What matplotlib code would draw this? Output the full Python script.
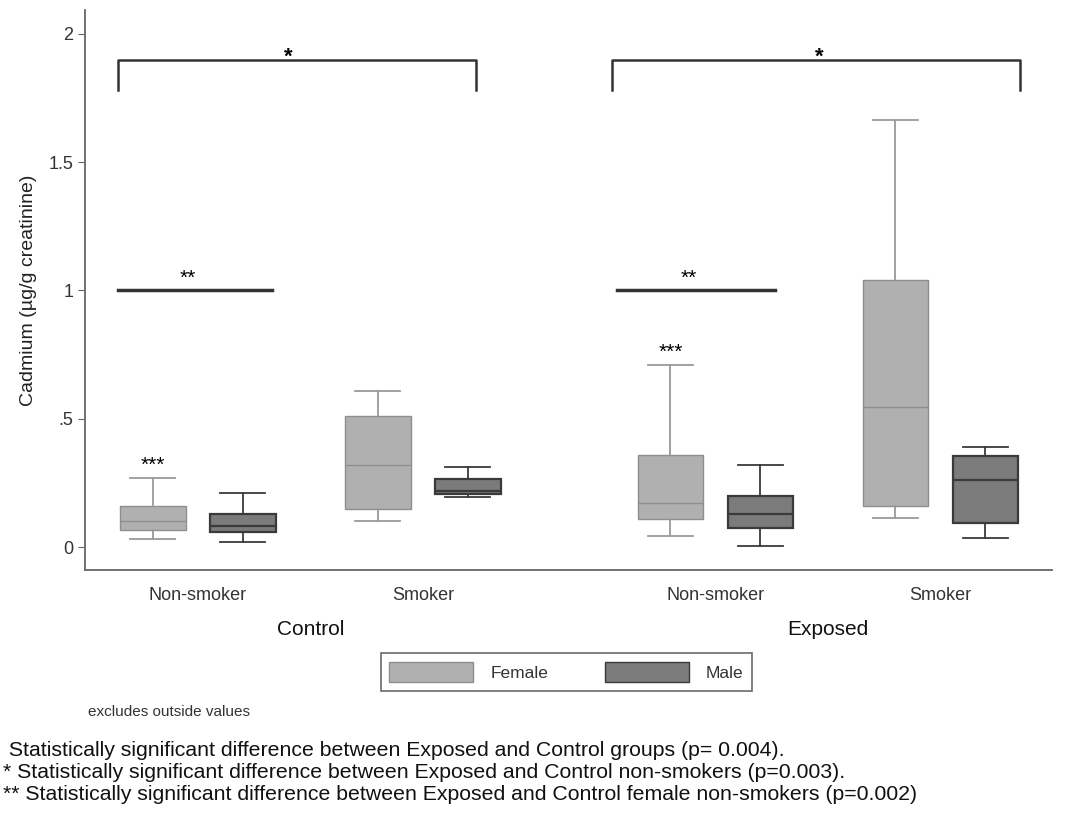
import numpy as np
import matplotlib
matplotlib.use("Agg")
import matplotlib.pyplot as plt
import matplotlib.transforms as mtrans
from matplotlib.patches import Patch

plt.rcParams["font.family"] = ["Liberation Sans", "DejaVu Sans"]

# box stats: whislo, q1, median, q3, whishi
groups = ["Control", "Exposed"]
smoking = ["Non-smoker", "Smoker", "Non-smoker", "Smoker"]
female_stats = [[0.031, 0.066, 0.10, 0.16, 0.27],
                [0.10, 0.15, 0.32, 0.51, 0.61],
                [0.043, 0.11, 0.17, 0.36, 0.71],
                [0.115, 0.16, 0.545, 1.04, 1.665]]
male_stats = [[0.02, 0.06, 0.08, 0.13, 0.21],
              [0.195, 0.205, 0.22, 0.265, 0.31],
              [0.005, 0.074, 0.13, 0.20, 0.32],
              [0.036, 0.095, 0.26, 0.355, 0.39]]
cat_pos = [0.0, 1.0, 2.3, 3.3]
group_pos = [0.5, 2.8]
yticks = [0, 0.5, 1, 1.5, 2]
ylabels = ["0", ".5", "1", "1.5", "2"]
footnotes = [" Statistically significant difference between Exposed and Control groups (p= 0.004).",
             "* Statistically significant difference between Exposed and Control non-smokers (p=0.003).",
             "** Statistically significant difference between Exposed and Control female non-smokers (p=0.002)"]

F_FILL, F_EDGE = "#b0b0b0", "#8e8e8e"
M_FILL, M_EDGE = "#7b7b7b", "#3a3a3a"


def mk(s, label):
    return dict(whislo=s[0], q1=s[1], med=s[2], q3=s[3], whishi=s[4], label=label, fliers=[])


fig = plt.figure(figsize=(10.67, 8.23), dpi=100)
ax = fig.add_axes([0.0797, 0.3074, 0.9063, 0.6806])

off, w = 0.2, 0.29
for stats, sign, fill, edge, lw in [(female_stats, -1, F_FILL, F_EDGE, 1.0),
                                    (male_stats, 1, M_FILL, M_EDGE, 1.6)]:
    ax.bxp([mk(s, "") for s in stats], positions=[p + sign * off for p in cat_pos],
           widths=w, patch_artist=True, showfliers=False, capwidths=0.2,
           boxprops=dict(facecolor=fill, edgecolor=edge, linewidth=lw),
           medianprops=dict(color=edge, linewidth=lw),
           whiskerprops=dict(color=edge if sign > 0 else "#9a9a9a", linewidth=1.3),
           capprops=dict(color=edge if sign > 0 else "#9a9a9a", linewidth=1.3))

# significance brackets
for x0, x1, xs in [(-0.356, 1.236, 0.40), (1.84, 3.653, 2.76)]:
    ax.plot([x0, x0, x1, x1], [1.78, 1.90, 1.90, 1.78], color="#333333", lw=1.8)
    ax.text(xs, 1.87, "*", ha="center", va="bottom", fontsize=16, fontweight="bold")
for x0, x1 in [(-0.356, 0.329), (1.862, 2.564)]:
    ax.plot([x0, x1], [1.0, 1.0], color="#333333", lw=2.5)
    ax.text((x0 + x1) / 2 - 0.03, 1.01, "**", ha="center", va="bottom", fontsize=15)
ax.text(cat_pos[0] - off, 0.28, "***", ha="center", va="bottom", fontsize=15)
ax.text(cat_pos[2] - off, 0.72, "***", ha="center", va="bottom", fontsize=15)

ax.set_xlim(-0.502, 3.796)
ax.set_ylim(-0.0897, 2.094)
ax.set_yticks(yticks)
ax.set_yticklabels(ylabels)
ax.set_xticks(cat_pos)
ax.set_xticklabels(smoking)
ax.tick_params(axis="x", length=0, pad=12, labelsize=13, labelcolor="#333333")
ax.tick_params(axis="y", length=5, color="#666666", labelsize=13, labelcolor="#333333")
for s in ["top", "right"]:
    ax.spines[s].set_visible(False)
for s in ["left", "bottom"]:
    ax.spines[s].set_color("#666666")
    ax.spines[s].set_linewidth(1.3)
ax.set_ylabel("Cadmium (µg/g creatinine)", fontsize=14, color="#222222", labelpad=8)

tr = mtrans.blended_transform_factory(ax.transData, ax.transAxes)
for g, x in zip(groups, group_pos):
    ax.text(x, -0.107, g, transform=tr, ha="center", va="center", fontsize=15, color="#111111")

handles = [Patch(facecolor=F_FILL, edgecolor=F_EDGE, label="Female"),
           Patch(facecolor=M_FILL, edgecolor=M_EDGE, label="Male")]
leg = fig.legend(handles=handles, loc="center", bbox_to_anchor=(0.531, 0.1835), ncol=2,
                 handlelength=4.8, handleheight=1.4, columnspacing=3.3, fontsize=12.5,
                 fancybox=False, edgecolor="#444444", borderpad=0.5, handletextpad=1.0)
leg.get_frame().set_linewidth(1.2)
for t in leg.get_texts():
    t.set_color("#333333")

fig.text(88 / 1067, 1 - 712 / 823, "excludes outside values", fontsize=11, va="center",
         color="#333333")
for i, line in enumerate(footnotes):
    fig.text(0.003, 1 - (750 + 22.5 * i) / 823, line, fontsize=15.3, va="center", color="#111111")

fig.savefig("out.png", dpi=100)
